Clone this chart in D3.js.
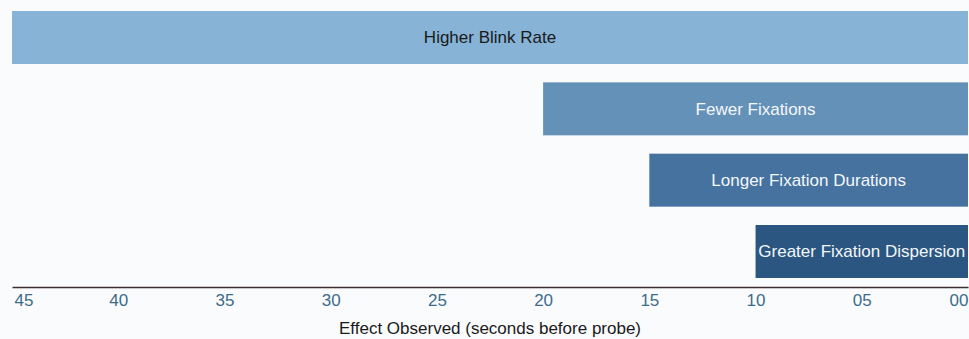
<!DOCTYPE html>
<html><head><meta charset="utf-8">
<script src="https://cdn.jsdelivr.net/npm/d3@7"></script>
<style>
html,body{margin:0;padding:0;background:#fafbfd;}
svg{display:block;font-family:"Liberation Sans",Arial,sans-serif;}
</style></head>
<body>
<svg id="chart" width="969" height="339"></svg>
<script>
const categories = ["Higher Blink Rate","Fewer Fixations","Longer Fixation Durations","Greater Fixation Dispersion"];
const startValues = [45, 20, 15, 10];
const endValues = [0, 0, 0, 0];
const barColors = ["#86b3d6","#6491b7","#45729e","#2a5681"];
const labelColors = ["#1a1a1a","#f4f7fb","#f4f7fb","#f4f7fb"];
const tickValues = [45,40,35,30,25,20,15,10,5,0];
const tickLabels = ["45","40","35","30","25","20","15","10","05","00"];
const axisTitle = "Effect Observed (seconds before probe)";

const svg = d3.select("#chart");
const x = d3.scaleLinear().domain([45,0]).range([12,968]);
const y = d3.scaleBand().domain(categories).range([11,278]).paddingInner(0.257).paddingOuter(0);

svg.append("rect").attr("x",0).attr("y",0).attr("width",969).attr("height",339).attr("fill","#fafbfd");

const data = categories.map((c,i)=>({c, s:startValues[i], e:endValues[i], col:barColors[i], lc:labelColors[i]}));
svg.selectAll("rect.bar").data(data).join("rect").attr("class","bar")
  .attr("x",d=>x(d.s)).attr("y",d=>y(d.c))
  .attr("width",d=>x(d.e)-x(d.s)).attr("height",y.bandwidth())
  .attr("fill",d=>d.col);
svg.selectAll("text.lbl").data(data).join("text").attr("class","lbl")
  .attr("x",d=>(x(d.s)+x(d.e))/2).attr("y",d=>y(d.c)+y.bandwidth()/2)
  .attr("dy","0.35em").attr("text-anchor","middle")
  .attr("font-size",17).attr("fill",d=>d.lc).text(d=>d.c);

const axis = d3.axisBottom(x).tickValues(tickValues).tickSize(0).tickPadding(7)
  .tickFormat((d,i)=>tickLabels[i]);
const g = svg.append("g").attr("transform","translate(0,287)").call(axis);
g.select(".domain").attr("stroke","#3d2f2f").attr("stroke-width",1.5);
g.selectAll("text").attr("font-size",17).attr("fill","#3c6c8a")
  .attr("font-family","Liberation Sans, Arial, sans-serif")
  .attr("text-anchor",(d,i)=> i===0 ? "start" : (i===tickValues.length-1 ? "end" : "middle"));
g.selectAll(".tick").filter((d,i)=>i===0).select("text").attr("dx",2);

svg.append("text").attr("x",490).attr("y",334).attr("text-anchor","middle")
  .attr("font-size",17).attr("fill","#1a1a1a").text(axisTitle);
</script>
</body></html>
